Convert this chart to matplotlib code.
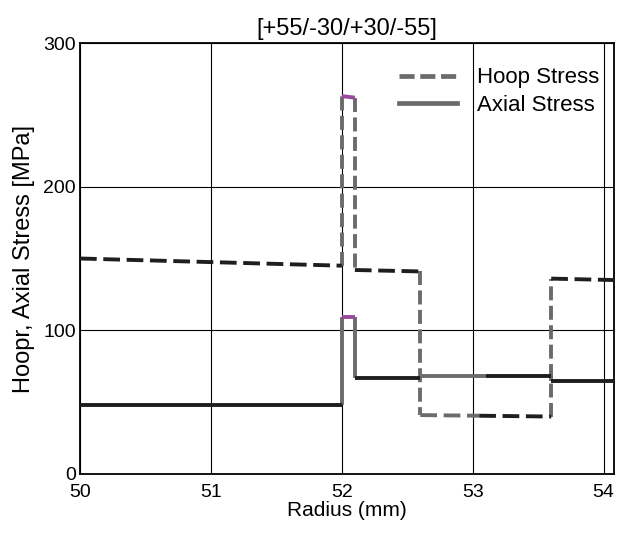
import matplotlib
matplotlib.use("Agg")
import matplotlib.pyplot as plt
from matplotlib.lines import Line2D

plt.rcParams['font.family'] = ['Liberation Sans', 'DejaVu Sans']

# ---- data ----
radius_edges = [50.0, 52.0, 52.1, 52.6, 53.6, 54.08]
hoop_start = [150, 263, 142, 41, 136]
hoop_end = [145, 262, 141, 40, 135]
axial_start = [48, 109, 67, 68, 65]
axial_end = [48, 109, 67, 68, 65]
x_ticks = [50, 51, 52, 53, 54]
y_ticks = [0, 100, 200, 300]
title = "[+55/-30/+30/-55]"

BLACK = "#1e1e1e"
GRAY = "#6b6b6b"
PURPLE = "#9a4a9e"

fig = plt.figure(figsize=(6.19, 5.33), dpi=100)
ax = fig.add_axes([0.1292, 0.1107, 0.8628, 0.8086])

lw = 2.8
hoop_dash = (4.3, 1.7)
vert_dash = (3.6, 1.4)

n = len(hoop_start)
for i in range(n):
    x0, x1 = radius_edges[i], radius_edges[i + 1]
    # horizontal segments
    for start, end, ls in ((hoop_start, hoop_end, 'dash'), (axial_start, axial_end, 'solid')):
        if i == 1:
            segs = [((x0, x1), (start[i], end[i]), PURPLE)]
        elif i == 3:
            xm = x0 + 0.45 * (x1 - x0) if ls == 'dash' else x0 + 0.5 * (x1 - x0)
            ym = start[i] + (end[i] - start[i]) * (xm - x0) / (x1 - x0)
            segs = [((x0, xm), (start[i], ym), GRAY), ((xm, x1), (ym, end[i]), BLACK)]
        else:
            segs = [((x0, x1), (start[i], end[i]), BLACK)]
        for xs, ys, c in segs:
            l, = ax.plot(xs, ys, color=c, lw=lw, solid_capstyle='butt', zorder=3)
            if ls == 'dash':
                l.set_dashes(hoop_dash)
    # vertical transitions
    if i < n - 1:
        xb = radius_edges[i + 1]
        l, = ax.plot([xb, xb], [hoop_end[i], hoop_start[i + 1]], color=GRAY, lw=lw, zorder=2)
        l.set_dashes(vert_dash)
        ax.plot([xb, xb], [axial_end[i], axial_start[i + 1]], color=GRAY, lw=lw,
                solid_capstyle='butt', zorder=2)

ax.set_xlim(50, 54.08)
ax.set_ylim(0, 300)
ax.set_xticks(x_ticks)
ax.set_yticks(y_ticks)
ax.grid(True, color='black', lw=0.8)
ax.tick_params(length=0, labelsize=14)
ax.tick_params(axis='y', pad=3)
ax.tick_params(axis='x', pad=7)
for s in ax.spines.values():
    s.set_linewidth(1.3)
    s.set_color('black')

ax.set_title(title, fontsize=17, pad=6)
ax.set_xlabel("Radius (mm)", fontsize=15, labelpad=0)
ax.set_ylabel("Hoopr, Axial Stress [MPa]", fontsize=17, labelpad=6)

handles = [Line2D([], [], color=GRAY, lw=3.4, dashes=(3.2, 1.2)),
           Line2D([], [], color=GRAY, lw=3.4)]
ax.legend(handles, ["Hoop Stress", "Axial Stress"], loc='upper right',
          bbox_to_anchor=(1.009, 0.99), frameon=False, fontsize=16,
          handlelength=2.6, handletextpad=0.9, labelspacing=0.3)

fig.savefig("out.png", dpi=100)
